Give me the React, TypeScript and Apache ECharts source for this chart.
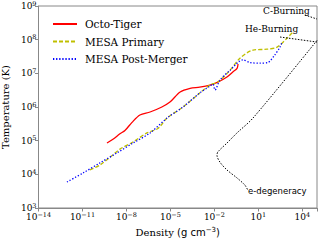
import React, { useEffect, useRef } from "react";
import * as echarts from "echarts";

// Density (g cm^-3), Temperature (K)
const octoRho = [4.7e-10, 1.2e-9, 3.6e-9, 7.9e-9, 2.4e-8, 8.3e-8, 4.1e-7, 2.6e-6, 9.3e-6, 4.6e-5, 2.2e-4, 1.0e-3, 5.0e-3, 1.7e-2, 7.2e-2, 1.8e-1, 3.5e-1, 4.1e-1];
const octoT = [8.5e4, 1.1e5, 1.6e5, 2.0e5, 3.5e5, 5.8e5, 7.1e5, 1.0e6, 1.4e6, 2.8e6, 3.6e6, 3.9e6, 4.5e6, 5.5e6, 7.8e6, 1.1e7, 1.4e7, 1.9e7];

const primRho = [3.2e-11, 1.6e-10, 7.4e-10, 3.6e-9, 2.8e-8, 2.5e-7, 1.4e-6, 5.9e-6, 7.2e-5, 1.0e-3, 5.0e-3, 1.7e-2, 1.1e-1, 5.5e-1, 4.3, 39, 190, 890, 2300];
const primT = [1.35e4, 1.9e4, 3.2e4, 5.6e4, 9.1e4, 1.7e5, 2.3e5, 4.7e5, 1.0e6, 2.6e6, 4.5e6, 5.5e6, 1.2e7, 2.8e7, 4.9e7, 5.2e7, 6.0e7, 1.1e8, 1.7e8];

const postRho = [8.7e-13, 1.1e-11, 1.6e-10, 2.2e-9, 2.8e-8, 4.1e-7, 5.9e-6, 7.2e-5, 1.0e-3, 5.0e-3, 7.9e-3, 1.1e-2, 2.4e-2, 1.1e-1, 8.9e-1, 2.6, 13, 45, 130, 300, 410];
const postT = [5.9e3, 1.1e4, 2.2e4, 4.3e4, 8.5e4, 1.7e5, 4.7e5, 1.0e6, 2.6e6, 4.2e6, 4.8e6, 3.2e6, 6.3e6, 1.2e7, 2.5e7, 2.1e7, 2.0e7, 2.1e7, 3.5e7, 6.0e7, 8.5e7];

const degRho = [1e5, 4.3, 3.5e-1, 7.2e-2, 1.7e-2, 1.5e-2, 2.4e-2, 7.2e-2, 3.5e-1, 1.2, 1.9];
const degT = [9.5e7, 4.7e5, 1.7e5, 8.5e4, 4.6e4, 3.7e4, 2.3e4, 1.35e4, 7.8e3, 4.8e3, 3.4e3];

const heRho = [300, 1e5];
const heT = [1.2e8, 8.5e7];
const cRho = [1.5e4, 1e5];
const cT = [5.4e8, 4.1e8];

const legendNames = ["Octo-Tiger", "MESA Primary", "MESA Post-Merger"];
const annotations = ["C-Burning", "He-Burning", "e-degeneracy"];

const toLog = (xs: number[], ys: number[]) =>
  xs.map((x, i) => [Math.log10(x), Math.log10(ys[i])]);

const SERIF = "DejaVu Serif";
const SANS = "DejaVu Sans";

const supLabel = (v: number) => {
  const e = Math.round(v);
  const s = e < 0 ? "\u2212" + Math.abs(e) : String(e);
  return "{b|10}{s|" + s + "}";
};

const richTick = {
  b: { fontSize: 9, fontFamily: SERIF, color: "#000" },
  s: { fontSize: 6.5, fontFamily: SERIF, color: "#000", padding: [0, 0, 5, 0] },
};

export default function App() {
  const ref = useRef<HTMLDivElement>(null);
  useEffect(() => {
    if (!ref.current) return;
    const chart = echarts.init(ref.current, null, { renderer: "svg" });
    const blackDot = { color: "#000", width: 1, type: [1.5, 1.5] as any };
    chart.setOption({
      animation: false,
      grid: {
        left: 38.5,
        right: 3,
        top: 6,
        bottom: 32,
        show: true,
        borderColor: "#888",
        borderWidth: 1,
        outerBoundsMode: "none",
      },
      legend: {
        data: legendNames,
        orient: "vertical",
        left: 47,
        top: 13,
        itemWidth: 24,
        itemHeight: 10,
        itemGap: 5.5,
        itemStyle: { opacity: 0 },
        textStyle: { fontFamily: SERIF, fontSize: 10.5, color: "#000", padding: [0, 0, 0, 3], lineHeight: 12 },
      },
      xAxis: {
        type: "value",
        min: -14,
        max: 5,
        interval: 3,
        splitLine: { show: false },
        axisLine: { onZero: false, lineStyle: { color: "#888" } },
        axisTick: { length: 3.5, lineStyle: { color: "#888" } },
        axisLabel: {
          margin: 3,
          formatter: (v: number) => ((Math.round(v) + 14) % 3 === 0 ? supLabel(v) : ""),
          rich: richTick,
        },
        name: "{a|Density }{c|(g cm}{s|\u22123}{c|)}",
        nameLocation: "middle",
        nameGap: 15,
        nameTextStyle: {
          rich: {
            a: { fontFamily: SERIF, fontSize: 10, color: "#000" },
            c: { fontFamily: SANS, fontSize: 10, color: "#000" },
            s: { fontFamily: SANS, fontSize: 7, color: "#000", padding: [0, 0, 5, 0] },
          },
        },
      },
      yAxis: {
        type: "value",
        min: 3,
        max: 9,
        interval: 1,
        splitLine: { show: false },
        axisLine: { onZero: false, lineStyle: { color: "#888" } },
        axisTick: { length: 3.5, lineStyle: { color: "#888" } },
        axisLabel: { margin: 2, formatter: (v: number) => supLabel(v), rich: richTick },
        name: "Temperature (K)",
        nameLocation: "middle",
        nameGap: 26,
        nameTextStyle: { fontFamily: SERIF, fontSize: 10, color: "#000" },
      },
      series: [
        {
          name: "Octo-Tiger",
          type: "line",
          data: toLog(octoRho, octoT),
          symbol: "none",
          smooth: 0.3,
          lineStyle: { color: "#ff0000", width: 1.3 },
          itemStyle: { color: "#ff0000" },
        },
        {
          name: "MESA Primary",
          type: "line",
          data: toLog(primRho, primT),
          symbol: "none",
          smooth: 0.3,
          lineStyle: { color: "#bfbf00", width: 1.3, type: [4, 2] },
          itemStyle: { color: "#bfbf00" },
        },
        {
          name: "MESA Post-Merger",
          type: "line",
          data: toLog(postRho, postT),
          symbol: "none",
          smooth: 0.3,
          lineStyle: { color: "#0000ff", width: 1.3, type: [1.3, 1.8] },
          itemStyle: { color: "#0000ff" },
        },
        {
          name: annotations[2],
          type: "line",
          data: toLog(degRho, degT),
          symbol: "none",
          smooth: 0.3,
          lineStyle: blackDot,
          silent: true,
        },
        {
          name: annotations[1],
          type: "line",
          data: toLog(heRho, heT),
          symbol: "none",
          lineStyle: blackDot,
          silent: true,
        },
        {
          name: annotations[0],
          type: "line",
          data: toLog(cRho, cT),
          symbol: "none",
          lineStyle: blackDot,
          silent: true,
        },
      ],
      graphic: [
        { type: "text", left: 263, top: 6, style: { text: annotations[0], font: `9px "${SERIF}"`, fill: "#000" } },
        { type: "text", left: 245, top: 24, style: { text: annotations[1], font: `9px "${SERIF}"`, fill: "#000" } },
        { type: "text", left: 248, top: 186, style: { text: annotations[2], font: `8.5px "${SANS}"`, fill: "#000" } },
      ],
    });
    return () => chart.dispose();
  }, []);
  return <div ref={ref} style={{ width: 320, height: 240, position: "absolute", left: 0, top: 0 }} />;
}
